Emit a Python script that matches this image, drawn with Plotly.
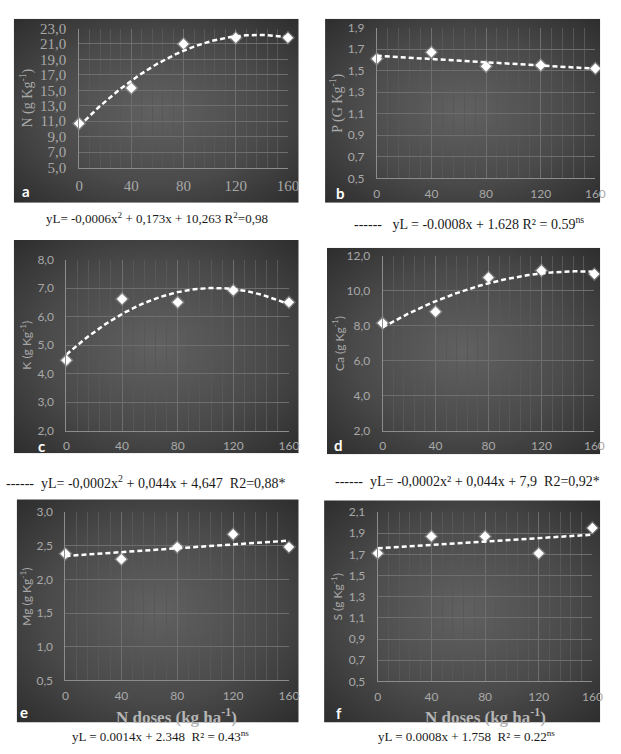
import base64
import numpy as np
import plotly.graph_objects as go

W, H = 621, 754

# ---------------- data ----------------
doses = [0, 40, 80, 120, 160]
N_vals = [10.7, 15.3, 21.0, 21.8, 21.8]
P_vals = [1.61, 1.67, 1.54, 1.55, 1.52]
K_vals = [4.47, 6.62, 6.50, 6.92, 6.50]
Ca_vals = [8.15, 8.80, 10.75, 11.15, 10.95]
Mg_vals = [2.38, 2.30, 2.48, 2.67, 2.48]
S_vals = [1.71, 1.87, 1.87, 1.71, 1.95]

fit_degree = [2, 1, 2, 2, 1, 1]
y_titles = ["N (g Kg<sup>-1</sup>)", "P (G Kg<sup>-1</sup>)", "K (g Kg<sup>-1</sup>)",
            "Ca (g Kg<sup>-1</sup>)", "Mg (g Kg<sup>-1</sup>)", "S (g Kg<sup>-1</sup>)"]
panel_letters = ["a", "b", "c", "d", "e", "f"]
y_ranges = [[5, 23], [0.5, 1.9], [2, 8], [2, 12], [0.5, 3.0], [0.5, 2.1]]
y_dticks = [2, 0.2, 1, 2, 0.5, 0.2]
captions = [
    "yL= -0,0006x<sup>2</sup> + 0,173x + 10,263 R<sup>2</sup>=0,98",
    "------   yL = -0.0008x + 1.628 R² = 0.59<sup>ns</sup>",
    "------  yL= -0,0002x<sup>2</sup> + 0,044x + 4,647  R2=0,88*",
    "------  yL= -0,0002x² + 0,044x + 7,9  R2=0,92*",
    "yL = 0.0014x + 2.348  R² = 0.43<sup>ns</sup>",
    "yL = 0.0008x + 1.758  R² = 0.22<sup>ns</sup>",
]
x_title = "N doses (kg ha<sup>-1</sup>)"

series = [N_vals, P_vals, K_vals, Ca_vals, Mg_vals, S_vals]

# ---------------- layout geometry (pixels) ----------------
boxes = [(10, 302, 11, 199), (329, 611, 11, 199),
         (10, 302, 237, 455), (331, 611, 245, 456),
         (13, 302, 502, 730), (328, 611, 503, 730)]
plots = [(77, 291, 21, 163), (382, 606, 20, 174),
         (64, 292, 257, 432), (388, 605, 253, 432),
         (63, 292, 515, 687), (383, 603, 515, 688)]
ytitle_x = [23, 341, 23, 343, 23, 341]
letter_pos = [(23, 187), (345, 189), (38, 447), (343, 446), (21, 719), (343, 720)]
caption_pos = [(157, 215), (476, 220), (146, 484), (475, 484), (160, 744), (474, 744)]
xtitle_pos = [(177, 723), (493, 723)]

serif = "Liberation Serif, Times New Roman, serif"
sans = "Lato, Open Sans, sans-serif"

def px_x(v):
    return v / W

def px_y(v):
    return 1 - v / H

def grad_svg():
    svg = ("<svg xmlns='http://www.w3.org/2000/svg' width='300' height='200' "
           "viewBox='0 0 300 200' preserveAspectRatio='none'>"
           "<defs><radialGradient id='g' cx='50%' cy='50%' r='72%'>"
           "<stop offset='0' stop-color='#616161'/>"
           "<stop offset='0.55' stop-color='#4a4a4a'/>"
           "<stop offset='1' stop-color='#2c2c2c'/>"
           "</radialGradient></defs>"
           "<rect width='300' height='200' fill='url(#g)'/></svg>")
    return "data:image/svg+xml;base64," + base64.b64encode(svg.encode()).decode()

fig = go.Figure()
images = []
annotations = []
src = grad_svg()

for i in range(6):
    bx0, bx1, by0, by1 = boxes[i]
    images.append(dict(source=src, xref="paper", yref="paper",
                       x=px_x(bx0), y=px_y(by0), sizex=(bx1 - bx0) / W,
                       sizey=(by1 - by0) / H, sizing="stretch",
                       xanchor="left", yanchor="top", layer="below"))
    px0, px1, py0, py1 = plots[i]
    xa = "xaxis" if i == 0 else f"xaxis{i+1}"
    ya = "yaxis" if i == 0 else f"yaxis{i+1}"
    xr = "x" if i == 0 else f"x{i+1}"
    yr = "y" if i == 0 else f"y{i+1}"
    tickfont = dict(family=serif if i == 0 else sans,
                    size=15 if i == 0 else 12, color="#a8a8a8")
    fig.layout[xa] = dict(domain=[px_x(px0), px_x(px1)], range=[0, 160],
                          anchor=yr, tickmode="array", tickvals=doses,
                          ticktext=[str(d) for d in doses],
                          showgrid=True, gridcolor="#6e6e6e", gridwidth=1,
                          minor=dict(dtick=8, showgrid=True, gridcolor="#575757",
                                     gridwidth=1),
                          showline=True, linecolor="#8c8c8c", linewidth=1,
                          zeroline=False, ticks="", tickfont=tickfont,
                          ticklabelstandoff=4, fixedrange=True)
    fig.layout[ya] = dict(domain=[px_y(py1), px_y(py0)], range=y_ranges[i],
                          anchor=xr, dtick=y_dticks[i], tick0=y_ranges[i][0],
                          tickformat=".1f", showgrid=True, gridcolor="#6e6e6e",
                          gridwidth=1, showline=True, linecolor="#8c8c8c",
                          linewidth=1, zeroline=False, ticks="", tickfont=tickfont,
                          ticklabelstandoff=9, fixedrange=True)

    yv = series[i]
    coef = np.polyfit(doses, yv, fit_degree[i])
    xs = np.linspace(0, 160, 161)
    ys = np.polyval(coef, xs)
    fig.add_trace(go.Scatter(x=xs, y=ys, mode="lines", xaxis=xr, yaxis=yr,
                             line=dict(color="white", width=2.5, dash="5px,3px"),
                             hoverinfo="skip", showlegend=False, cliponaxis=False))
    fig.add_trace(go.Scatter(x=doses, y=yv, mode="markers", xaxis=xr, yaxis=yr,
                             marker=dict(symbol="diamond", size=11,
                                         color="rgba(255,255,255,0.25)",
                                         line=dict(width=0)),
                             hoverinfo="skip", showlegend=False, cliponaxis=False))
    fig.add_trace(go.Scatter(x=doses, y=yv, mode="markers", xaxis=xr, yaxis=yr,
                             marker=dict(symbol="diamond", size=8, color="white",
                                         line=dict(width=0)),
                             showlegend=False, cliponaxis=False))

    annotations.append(dict(text=y_titles[i], xref="paper", yref="paper",
                            x=px_x(ytitle_x[i]), y=px_y((py0 + py1) / 2),
                            textangle=-90, showarrow=False,
                            xanchor="center", yanchor="middle",
                            font=dict(family=serif if i < 2 else sans,
                                      size=14 if i < 2 else 12, color="#a8a8a8")))
    lx, ly = letter_pos[i]
    annotations.append(dict(text=f"<b>{panel_letters[i]}</b>", xref="paper",
                            yref="paper", x=px_x(lx), y=px_y(ly), showarrow=False,
                            xanchor="center", yanchor="middle",
                            font=dict(family=sans, size=15, color="white")))
    cx, cy = caption_pos[i]
    annotations.append(dict(text=captions[i], xref="paper", yref="paper",
                            x=px_x(cx), y=px_y(cy), showarrow=False,
                            xanchor="center", yanchor="middle",
                            font=dict(family=serif,
                                      size=14 if i in (1, 2, 3) else 13,
                                      color="#1a1a1a")))

for (tx, ty) in xtitle_pos:
    annotations.append(dict(text=f"<b>{x_title}</b>", xref="paper", yref="paper",
                            x=px_x(tx), y=px_y(ty), showarrow=False,
                            xanchor="center", yanchor="middle",
                            font=dict(family=serif, size=17, color="#b5b5b5")))

fig.update_layout(width=W, height=H, margin=dict(l=0, r=0, t=0, b=0),
                  paper_bgcolor="white", plot_bgcolor="rgba(0,0,0,0)",
                  separators=",.", images=images, annotations=annotations,
                  showlegend=False)

fig.write_html("out.html")
